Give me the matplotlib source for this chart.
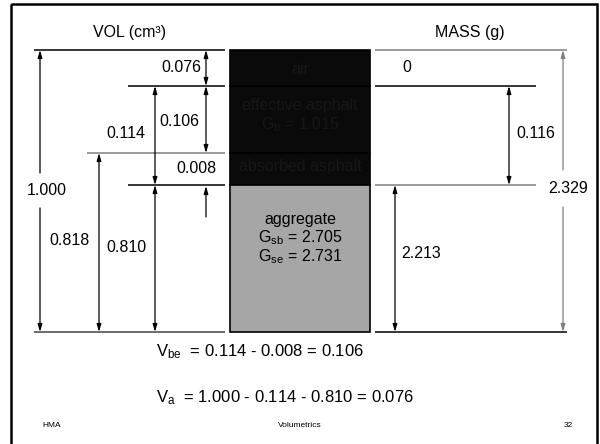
import matplotlib
matplotlib.use("Agg")
import matplotlib.pyplot as plt
from matplotlib.patches import Rectangle

plt.rcParams['font.family'] = ['Liberation Sans', 'DejaVu Sans']
plt.rcParams['mathtext.fontset'] = 'custom'
plt.rcParams['mathtext.rm'] = 'Liberation Sans'
plt.rcParams['mathtext.it'] = 'Liberation Sans:italic'

# ---- data ----
layers = ["air", "effective asphalt", "absorbed asphalt", "aggregate"]
gravity_b = r"G$_{\mathrm{b}}$ = 1.015"
gravity_sb = r"G$_{\mathrm{sb}}$ = 2.705"
gravity_se = r"G$_{\mathrm{se}}$ = 2.731"
vol_total = "1.000"
vol_air = "0.076"
vol_eff = "0.106"
vol_abs = "0.008"
vol_binder = "0.114"
vol_agg_bulk = "0.818"
vol_agg_eff = "0.810"
mass_air = "0"
mass_binder = "0.116"
mass_agg = "2.213"
mass_total = "2.329"
eq1 = r"V$_{\mathrm{be}}$  = 0.114 - 0.008 = 0.106"
eq2 = r"V$_{\mathrm{a}}$  = 1.000 - 0.114 - 0.810 = 0.076"
footer = ["HMA", "Volumetrics", "32"]

# ---- layout (pixel positions) ----
W, H = 600, 444
fig = plt.figure(figsize=(6, 4.44), dpi=100)
ax = fig.add_axes([0, 0, 1, 1])
ax.set_xlim(0, W)
ax.set_ylim(H, 0)
ax.axis('off')

# frame
ax.add_patch(Rectangle((11, 4), 586, 460, fill=False, lw=1.8, ec='black'))

bx0, bx1 = 230, 370
yb = [50, 86, 153, 185, 332]  # layer boundaries
dark = '#0a0a0a'
gray = '#a6a6a6'
for i in range(3):
    ax.add_patch(Rectangle((bx0, yb[i]), bx1 - bx0, yb[i + 1] - yb[i],
                           fc=dark, ec='black', lw=1.2))
ax.add_patch(Rectangle((bx0, yb[3]), bx1 - bx0, yb[4] - yb[3],
                       fc=gray, ec='black', lw=1.2))

fs = 11.5
tc = '#171717'
cx = (bx0 + bx1) / 2
ax.text(cx, 69, layers[0], ha='center', va='center', fontsize=fs, color=tc)
ax.text(cx, 105, layers[1], ha='center', va='center', fontsize=fs, color=tc)
ax.text(cx, 125, gravity_b, ha='center', va='center', fontsize=fs, color=tc)
ax.text(cx, 166, layers[2], ha='center', va='center', fontsize=fs, color=tc)
ax.text(cx, 219, layers[3], ha='center', va='center', fontsize=fs, color='black')
ax.text(cx, 238, gravity_sb, ha='center', va='center', fontsize=fs, color='black')
ax.text(cx, 257, gravity_se, ha='center', va='center', fontsize=fs, color='black')

# horizontal lines
lg = '#7f7f7f'
def hline(y, x0, x1, c='black'):
    ax.plot([x0, x1], [y, y], color=c, lw=1.1, solid_capstyle='butt')

hline(50, 34, 225)
hline(86, 128, 225)
hline(153, 87, 225, lg)
hline(185, 128, 225)
hline(332, 34, 225, '#444444')
hline(50, 375, 567, lg)
hline(86, 375, 536)
hline(185, 375, 536, lg)
hline(332, 375, 567)

def arrow(x, y0, y1, style='<|-|>', c='black'):
    ax.annotate('', xy=(x, y1), xytext=(x, y0),
                arrowprops=dict(arrowstyle=style + ',head_length=0.45,head_width=0.13',
                                color=c, lw=0.9, shrinkA=0, shrinkB=0))

# volume arrows
arrow(40, 173, 50, '-|>')
arrow(40, 208, 332, '-|>')
arrow(99, 153, 332)
arrow(155, 86, 185)
arrow(155, 185, 332)
arrow(206, 50, 86)
arrow(206, 86, 153)
arrow(206, 217, 186, '-|>')

ax.text(47, 190, vol_total, ha='center', va='center', fontsize=fs)
ax.text(70, 240, vol_agg_bulk, ha='center', va='center', fontsize=fs)
ax.text(126, 133, vol_binder, ha='center', va='center', fontsize=fs)
ax.text(126, 247, vol_agg_eff, ha='center', va='center', fontsize=fs)
ax.text(181, 68, vol_air, ha='center', va='center', fontsize=fs)
ax.text(179, 121, vol_eff, ha='center', va='center', fontsize=fs)
ax.text(196, 168, vol_abs, ha='center', va='center', fontsize=fs)

# mass arrows
arrow(563, 170, 50, '-|>', lg)
arrow(563, 207, 332, '-|>', lg)
arrow(509, 86, 185)
arrow(395, 185, 332)
ax.text(568, 188, mass_total, ha='center', va='center', fontsize=fs)
ax.text(536, 133, mass_binder, ha='center', va='center', fontsize=fs)
ax.text(421, 253, mass_agg, ha='center', va='center', fontsize=fs)
ax.text(407, 67, mass_air, ha='center', va='center', fontsize=fs)

ax.text(130, 33, "VOL (cm³)", ha='center', va='center', fontsize=fs)
ax.text(470, 33, "MASS (g)", ha='center', va='center', fontsize=fs)

ax.text(156, 352, eq1, ha='left', va='center', fontsize=12)
ax.text(156, 398, eq2, ha='left', va='center', fontsize=12)

ax.text(42, 425, footer[0], ha='left', va='center', fontsize=6)
ax.text(300, 425, footer[1], ha='center', va='center', fontsize=6)
ax.text(573, 425, footer[2], ha='right', va='center', fontsize=6)

fig.savefig('out.png', dpi=100)
